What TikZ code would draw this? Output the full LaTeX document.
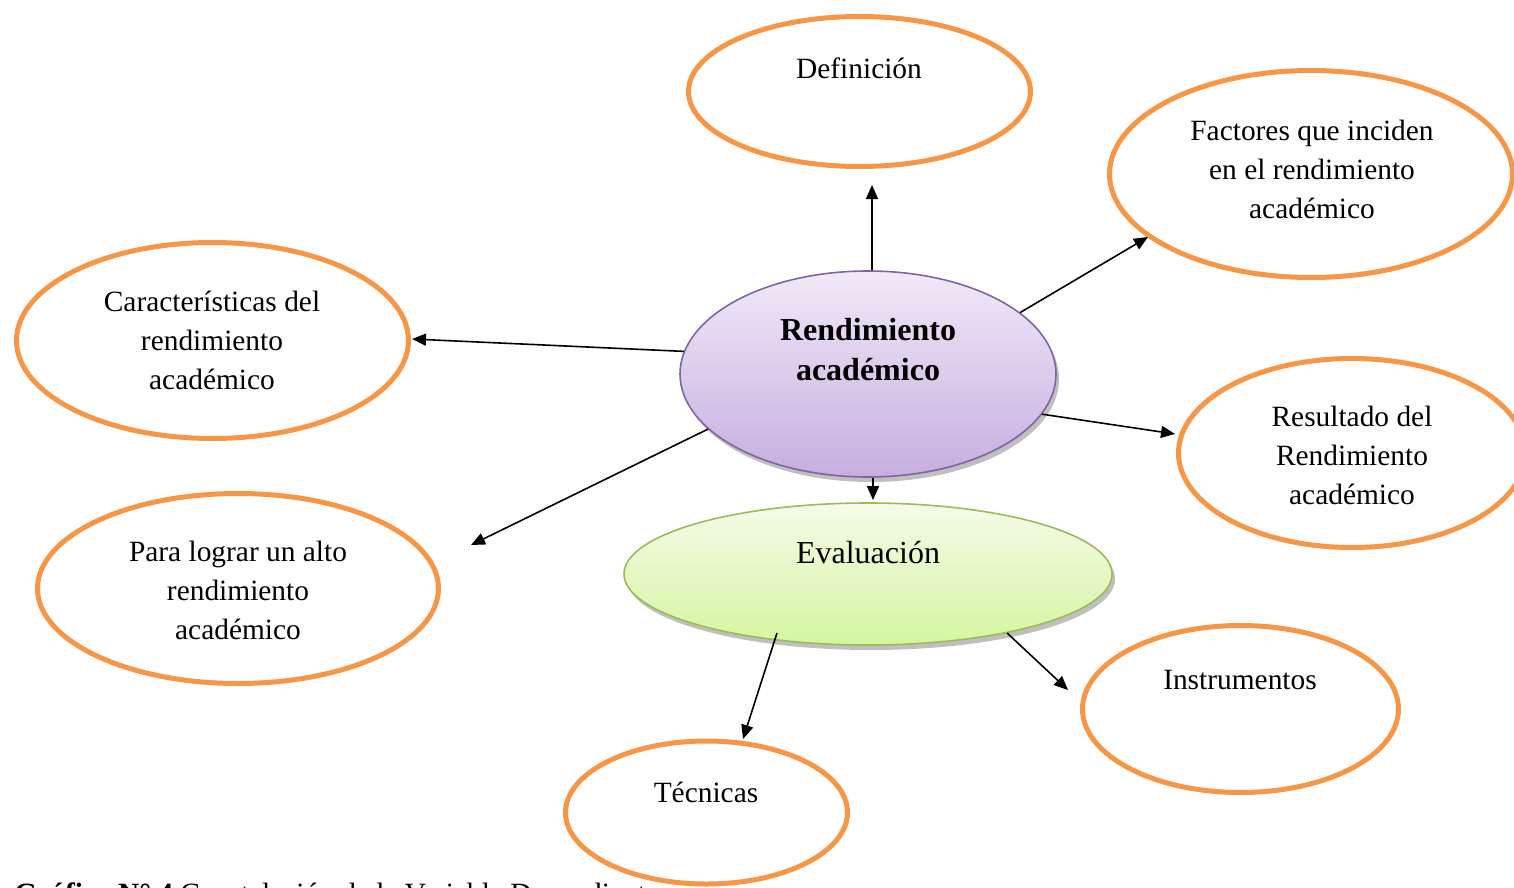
\documentclass[tikz,border=0pt]{standalone}
\usepackage{fontspec}
\setmainfont{Liberation Serif}
\usetikzlibrary{shapes.geometric,shadows,arrows.meta}
\definecolor{orng}{HTML}{F79646}
\definecolor{purpB}{HTML}{8064A2}
\definecolor{purpT}{HTML}{F1E9F8}
\definecolor{purpL}{HTML}{C6AEE0}
\definecolor{grnB}{HTML}{9BBB59}
\definecolor{grnT}{HTML}{F4FBE9}
\definecolor{grnL}{HTML}{D6F59E}
\begin{document}
\begin{tikzpicture}[x=0.5pt,y=-0.5pt,
  oval/.style={ellipse, draw=orng, line width=2.5pt, fill=white, inner sep=0pt},
  core/.style={ellipse, line width=0.8pt, inner sep=0pt,
    drop shadow={shadow xshift=1.5pt, shadow yshift=-2.5pt, fill=black, opacity=0.25}},
  lbl/.style={align=center, font=\fontsize{14.7}{19.5}\selectfont},
  arr/.style={-{Triangle[length=7pt,width=6pt]}, line width=0.8pt}]
\useasboundingbox (0,0) rectangle (1514,888);
\clip (0,0) rectangle (1514,888);

% caption (cut by the page edge, as in the reference)
\node[anchor=base west, inner sep=0pt, font=\fontsize{14.7}{19.5}\selectfont] (cap) at (14,903)
  {\textbf{Gráfico N° 4} Constelación de la Variable Dependiente};

% outer ellipses
\node[oval, minimum width=171pt, minimum height=75pt] (def) at (859.5,91.5) {};
\node[oval, minimum width=201.5pt, minimum height=103.5pt] (fac) at (1311,174) {};
\node[oval, minimum width=196pt, minimum height=98pt] (car) at (212.5,340.5) {};
\node[oval, minimum width=173.5pt, minimum height=94.5pt] (res) at (1352,453) {};
\node[oval, minimum width=200.5pt, minimum height=95pt] (para) at (238,588.5) {};
\node[oval, minimum width=158pt, minimum height=83.5pt] (ins) at (1240.5,709) {};
\node[oval, minimum width=141pt, minimum height=71.5pt] (tec) at (706.5,812.5) {};

% central ellipses
\node[core, draw=purpB, top color=purpT, bottom color=purpL,
  minimum width=188pt, minimum height=103pt] (rend) at (868,374) {};
\node[core, draw=grnB, top color=grnT, bottom color=grnL,
  minimum width=244pt, minimum height=71pt] (eval) at (868,574) {};

% labels
\node[lbl] (tdef) at (859,68) {Definición};
\node[lbl] (tfac) at (1312,169) {Factores que inciden\\en el rendimiento\\académico};
\node[lbl] (tcar) at (212,340) {Características del\\rendimiento\\académico};
\node[lbl] (tres) at (1352,455) {Resultado del\\Rendimiento\\académico};
\node[lbl] (tpara) at (238,590) {Para lograr un alto\\rendimiento\\académico};
\node[lbl] (tins) at (1240,680) {Instrumentos};
\node[lbl] (ttec) at (706,792) {Técnicas};
\node[align=center, font=\fontsize{16}{20}\selectfont\bfseries] (trend) at (868,350) {Rendimiento\\académico};
\node[lbl, font=\fontsize{16}{20}\selectfont] (teval) at (868,553) {Evaluación};

% arrow end points
\coordinate (e1) at (872,185);
\coordinate (e2) at (1148,237);
\coordinate (e3) at (412,339);
\coordinate (e4) at (1175,434);
\coordinate (e5) at (471,545);
\coordinate (e6) at (873,500);
\coordinate (e7) at (743,739);
\coordinate (e8) at (1068,690);
\coordinate (s1) at (872,270);
\coordinate (s6) at (873,478);
\coordinate (s7) at (777,633);

% connectors
\draw[arr] (s1) -- (e1);
\draw[arr] (rend.22.5) -- (e2);
\draw[arr] (rend.173.9) -- (e3);
\draw[arr] (rend.-13) -- (e4);
\draw[arr] (rend.199.3) -- (e5);
\draw[arr] (s6) -- (e6);
\draw[arr] (s7) -- (e7);
\draw[arr] (eval.-23.5) -- (e8);
\end{tikzpicture}
\end{document}
